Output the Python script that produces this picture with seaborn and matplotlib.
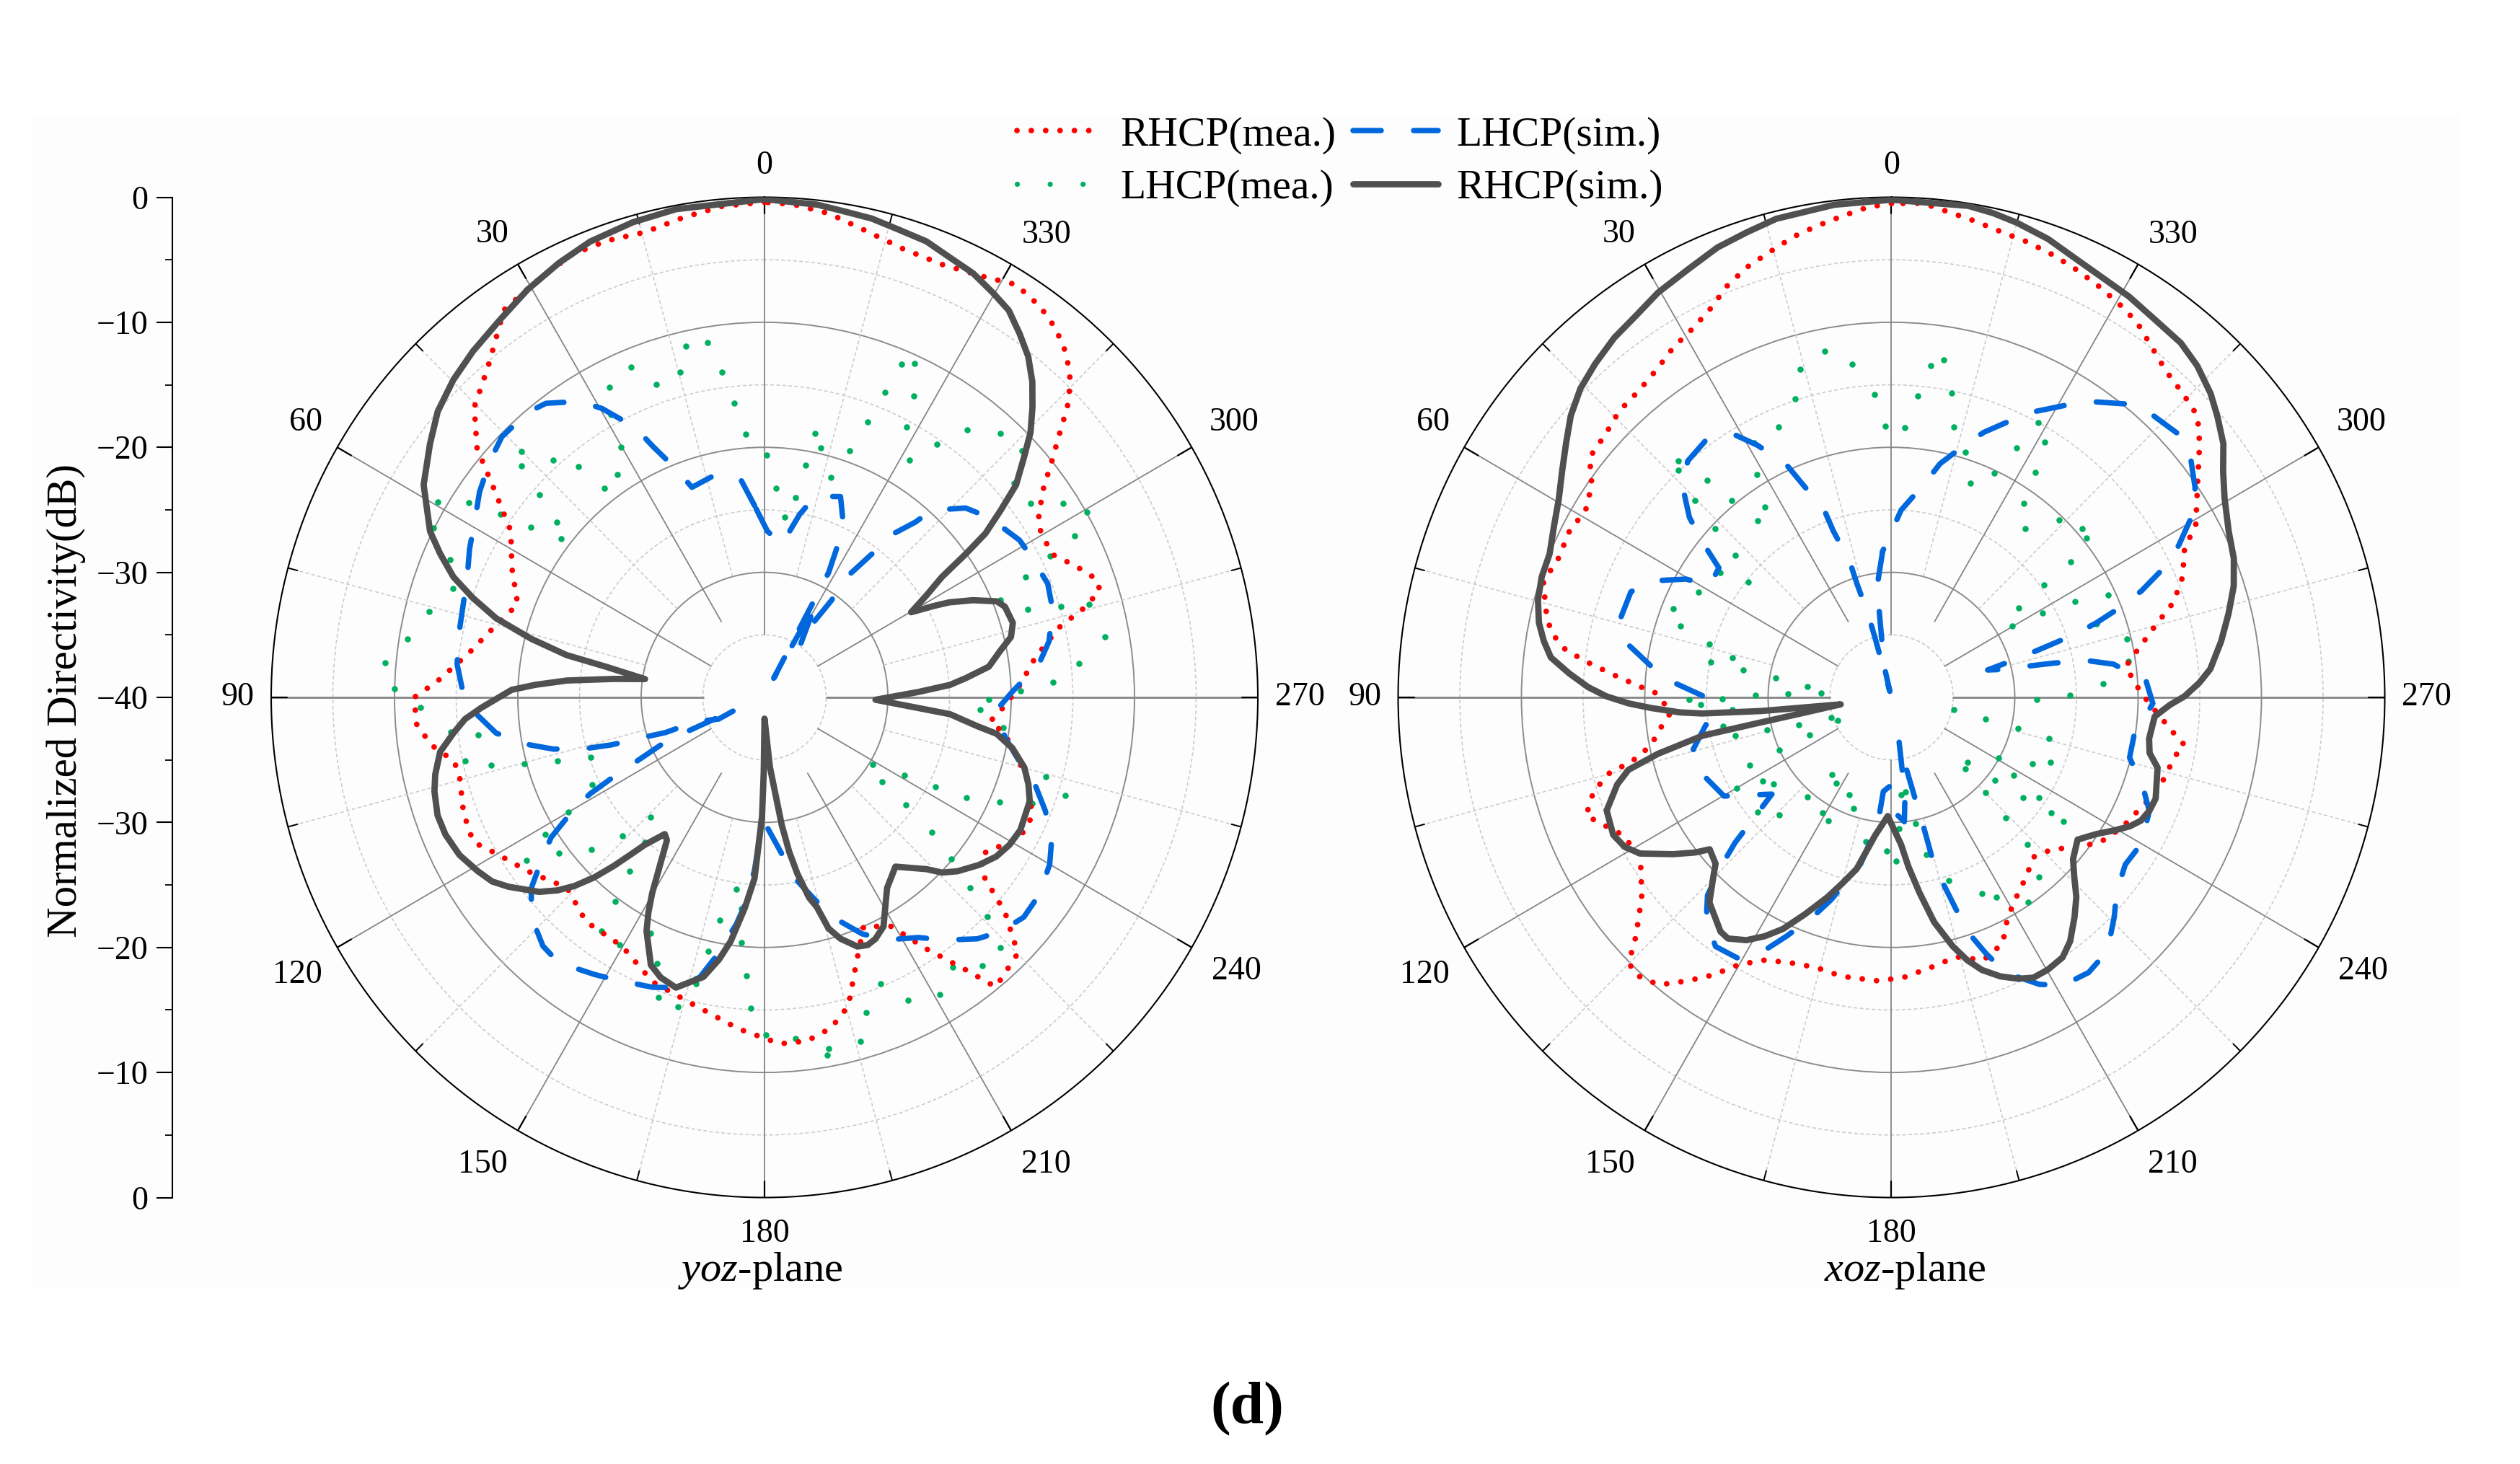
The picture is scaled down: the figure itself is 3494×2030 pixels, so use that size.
import numpy as np
import matplotlib
matplotlib.use("Agg")
import matplotlib.pyplot as plt
from matplotlib.lines import Line2D
from matplotlib.patches import Rectangle
import seaborn as sns

sns.set_theme(style="white")
plt.rcParams['font.family'] = ['Liberation Serif', 'DejaVu Serif']
plt.rcParams['mathtext.fontset'] = 'custom'
plt.rcParams['mathtext.it'] = 'Liberation Serif:italic'
plt.rcParams['mathtext.rm'] = 'Liberation Serif'

# yoz-plane, values (angle in deg, level in dB)
rhcp_sim_yoz_deg = [0,10.4,15.7,21.2,25.6,30.5,35.4,40.5,44.8,49.2,53.2,58.4,63.9,66.4,69.1,71.4,73.8,76.1,78.1,79.2,81.4,83.1,85.2,86.9,88.3,92.1,94.1,96.5,99.4,103,105.7,109.6,113,117,120.8,123.7,126.1,130.4,132.6,134.4,136.2,137.8,139.2,140.5,143.5,145.3,149.8,151.3,152.9,156.7,159.4,162.8,167.5,170,172,174.6,176.8,178.8,179.4,180,184.5,187.8,189.2,190.7,192.7,194.2,195.7,197.7,200.7,202.9,205,207.8,208.9,213.1,218.1,223.7,225.8,228.4,232.4,235.9,239.3,242.9,248.9,252,255.1,258.6,261.2,262.4,264.9,268.8,272,273.8,275.4,277.7,281.1,283.6,286.5,290.4,292.2,294.7,296.9,298,299.8,301.9,303.8,305.1,306.2,308,309.8,312.4,314.5,316.9,319.3,321.9,324.6,327.4,330.3,333.5,336.9,340.2,343.8,347.2,350.5,353.8,360]
rhcp_sim_yoz_db = [-0.15,-0.3,-0.53,-0.9,-1.46,-2.15,-2.96,-3.6,-4.2,-5,-6.13,-7.55,-9.8,-11.3,-13,-15.04,-17.35,-20.53,-23.6,-26.9,-30.2,-27.7,-23.9,-21.4,-19.5,-17,-15.65,-14.6,-13.34,-12.6,-12.2,-11.86,-11.9,-12.24,-12.9,-13.46,-14.3,-16,-17.2,-18.45,-20.05,-21.8,-23.4,-24.7,-26.4,-26.1,-21.9,-20.4,-19,-16.7,-16.07,-15.7,-17.1,-18.7,-20.3,-23.1,-25.5,-30.5,-34,-38.3,-34.4,-29.7,-27.5,-25.65,-23.6,-22.7,-20.8,-19.74,-18.7,-18.5,-18.7,-19.3,-19.9,-21.8,-22.8,-21,-19.9,-19.06,-18.04,-17.3,-16.9,-16.7,-16.95,-17.5,-18.2,-19.5,-20.95,-22.6,-24.9,-31,-27.5,-24.93,-23.6,-21.64,-20.5,-19.44,-19,-19.2,-19.66,-21.4,-23.2,-24.4,-26.3,-24.5,-22.7,-20.07,-17.8,-15.7,-13.45,-11.5,-9.76,-8.2,-6.7,-5.35,-4.3,-3.25,-2.7,-2.1,-1.74,-1.24,-1.04,-0.73,-0.6,-0.36,-0.15]

rhcp_mea_yoz_deg = [0,4.9,9.65,14.6,19.4,23.9,29.2,34.3,40.2,45.4,49.5,52.4,57.1,63.2,69.6,74.6,81.5,87.1,90,94.3,98,101.4,104,110.8,116.1,119.8,125.9,133.6,141.1,149.8,158.3,166.5,175.5,182.6,187.1,191.5,195.4,199.1,203.7,209.3,213.1,216.8,219,225.1,228.6,231,234.5,241.6,246.4,253.3,261.5,264,268,272.8,278.3,283.2,285.3,287.4,289.3,292.7,296.2,301.2,303.3,306.6,308.9,311.3,313.4,315.5,318.3,321.4,324.5,328.3,332.5,337.4,342.7,347.9,352.3,356.6,360]
rhcp_mea_yoz_db = [-0.4,-0.56,-1.05,-1.55,-1.3,-1.3,-1.95,-2.5,-5.3,-6.95,-9.35,-12.15,-15.5,-17.05,-18.65,-17.6,-15.8,-13.5,-11.6,-11.7,-12.7,-14.3,-14.5,-13.9,-13.7,-14.9,-16.3,-17.9,-16.95,-17,-15.5,-14.8,-13.4,-12.27,-12.3,-13,-14.4,-17.35,-20,-19,-16,-12.8,-10.2,-11,-14,-17,-18.4,-16.45,-16.3,-17.8,-20.3,-21.6,-20.5,-19.25,-17.8,-15.45,-13.25,-11.5,-11.45,-12.7,-14.05,-13.93,-13.4,-11.8,-10.1,-8.2,-6.2,-4.6,-3.2,-2.2,-1.56,-1.2,-2,-2.5,-2.4,-1.74,-0.95,-0.5,-0.4]

lhcp_sim_yoz_deg = [3,6.2,12,19.3,21.4,24.3,25.9,29.7,32.3,37,40.1,45.6,49.7,54.6,58.5,63.6,67.9,73.6,78.2,83.9,88.6,93.4,97.5,101.3,103.6,105.8,107,108,109.3,109.2,115,112,113.5,114,116.2,117.2,118.6,120.1,122.9,125.6,128.9,132.9,137.9,141.8,148.1,152,158.6,162.1,166.8,169.1,172.8,174.5,176.6,177.6,180,186.4,188.9,193.8,197.4,202.7,207.2,213,217,221.8,225.7,230.1,234.7,240,244.3,248.3,252.1,257,260.7,266.9,271.3,276.8,281,286.8,291.6,297.1,301.3,308.4,312.9,317.8,318.9,322.4,322.8,325.6,325,327,325,331,334,332.5,333.8,336.2,339,345.7,349,353.5,359,363]
lhcp_sim_yoz_db = [-24.65,-22.55,-21.7,-22.2,-20.4,-17.95,-16,-13.4,-12,-10.55,-10.2,-10.2,-10.8,-11.65,-12.5,-13.3,-14,-14.5,-14.7,-14.93,-15.5,-16.65,-18.06,-20.6,-22.4,-25,-27,-29.6,-31.5,-34.1,-35.9,-37.74,-33.23,-31.1,-28.5,-26.6,-23.9,-22.1,-19.4,-17.8,-15.7,-14.2,-13.2,-13,-13.9,-14.4,-15.1,-15.6,-17,-18.8,-21.7,-23.3,-26.1,-28,-30,-27.4,-25.6,-23.5,-21.6,-19.5,-18.2,-17.1,-15.7,-14.1,-13.2,-12.6,-12.7,-13.3,-14.15,-15.5,-16.9,-19.05,-20.24,-21.15,-19.9,-17.6,-16.5,-15.6,-15.3,-15.6,-15.8,-16.8,-17.75,-19.8,-21.4,-23.9,-25.6,-28.55,-30.5,-33.4,-35,-31.5,-38.3,-28.73,-26.8,-24.3,-22.8,-23.4,-25.1,-27.7,-26.7,-24.65]

lhcp_mea_yoz_deg = [12.8,9.3,22.3,14.7,7.6,19.3,26.9,28.8,6,4.1,30.1,45.1,42.1,46.8,39.3,33.8,37.8,48.4,59.5,57,55.6,63.2,54.3,50.3,52.4,66.6,71,75.8,80.8,84.9,88.7,91.6,96.2,97.3,101.8,103.8,105.2,106.8,108.8,116.5,119.9,121.7,136,133.8,140,130.9,126.8,124.1,141.8,143.4,171.5,173.6,168.6,174.6,144.8,149.2,153.9,167.3,157.7,166.3,176.2,160.3,164.2,177.4,180.3,185.3,190.5,190.1,195.8,198.1,202.3,205.7,210.9,215.3,219.5,223.7,225.9,227.6,229.6,231.5,233.2,234.8,238.5,241.2,242.8,244,246.3,248.6,252.2,254.4,256.4,262.9,266.8,269.4,271.5,273,276.1,280,285.8,286.8,288.3,292.2,294.5,296,297.2,299.6,302.6,305.7,310.2,313.4,317.8,322.5,325.3,328.3,331.9,339.2,340.7,343,347.1,349.1,349.9,351,353.5,356.7,359.4,338.2,333.3,337.4,335.5]
lhcp_mea_yoz_db = [-11.2,-11.24,-11.43,-13.1,-13.74,-13.5,-12.16,-14.2,-16.34,-18.92,-16.85,-12.15,-14.4,-12.94,-16.16,-18.55,-18.8,-15.6,-9.24,-11.43,-14.03,-9.9,-16.64,-18.1,-19.2,-12.2,-13.3,-11.94,-10.7,-9.1,-10,-12.1,-14.44,-16.6,-15.2,-17.2,-19.8,-22.45,-25.1,-24.4,-21.65,-19.1,-26.7,-24,-24.9,-21.4,-19.2,-16.7,-22.3,-19.7,-24.5,-23,-21.8,-20.3,-17.1,-17,-19,-19.2,-17,-16.45,-17.7,-14.5,-14.3,-15.1,-13,-12.6,-11.45,-10.95,-11.4,-13.5,-15.24,-13.1,-12.33,-13.55,-12.2,-12.3,-14.8,-17.44,-20.1,-22.7,-25.7,-28.3,-29.7,-27.04,-24.4,-21.75,-19.15,-16.7,-14.4,-16.3,-18.8,-20.5,-22.5,-21.8,-19.26,-16.57,-14.36,-12,-12.67,-14.92,-17.5,-19.33,-16.73,-14.24,-11.7,-9.95,-11.25,-13.44,-13.5,-11.3,-11.54,-13.03,-15.4,-17.67,-15.5,-16.4,-19.1,-21.6,-19.5,-18.5,-21.14,-23.84,-25.5,-23.24,-20.6,-13.7,-13,-11.13,-10.65]

# xoz-plane
rhcp_sim_xoz_deg = [0,6.7,13.7,17.5,21.4,25.7,30.3,34.1,38,42,45.6,49.1,52.4,55.9,59.5,63.4,67.5,71.2,74.8,78.2,80.9,83.4,85.8,88.1,89.8,91.3,92.5,94,94.8,95.9,97.7,99.8,100.8,101.3,103.4,105.2,107.4,111.4,116,119,121.5,125.3,127.9,129.5,133,135.1,138,143.5,145.5,148.8,151.7,154.6,158,162,165,168.4,173.2,178.2,183.8,185.8,188.3,190.9,194,196.3,198.6,201.6,204.6,207.2,210.2,213.7,216.6,220.2,223.2,226,228.7,233,236.7,239.6,241.9,244,246.6,249.3,255.4,258,261,265.9,268.5,270.2,272.7,275,279.5,283.8,287.8,291.8,295.9,300.5,303.9,307,310.4,313.2,316.9,320.4,324.7,329,332.8,336.7,340.9,345,348,351,360]
rhcp_sim_xoz_db = [-0.2,-0.33,-0.6,-1,-1.35,-2,-2.5,-3.1,-3.5,-4.1,-4.7,-5.6,-6.7,-7.75,-8.7,-9.4,-10,-10.05,-10.3,-10.8,-11.45,-12.2,-13.8,-15.4,-16.9,-18.7,-20.5,-22.8,-24.6,-29.4,-35.85,-32.9,-28.64,-24.4,-20.55,-17.9,-16.7,-15.2,-14.9,-15.3,-16.1,-18.3,-19.8,-20.9,-20.5,-19.5,-17.94,-16.7,-16.6,-17.3,-18.3,-19.5,-21.3,-23.2,-24.6,-26,-28.9,-30.5,-28.2,-26.4,-24.2,-21.7,-19.5,-18.1,-17,-16,-15.25,-14.8,-14.8,-15,-15.7,-17,-18.1,-19.4,-20.4,-21.1,-20.1,-19,-18.1,-17.5,-17.2,-17.1,-17.7,-18.6,-18.85,-18.6,-17.4,-16.24,-15,-14.05,-12.9,-11.85,-10.85,-10.1,-9.6,-8.65,-7.6,-6.3,-5.3,-4.5,-3.7,-3.2,-3,-2.6,-2.34,-1.9,-1.2,-0.7,-0.4,-0.2,-0.2]

rhcp_mea_xoz_deg = [0,2.8,5.9,9,12.1,15.4,18.7,21.9,25.2,28.7,32.3,36,39.9,44,47.9,51.9,55,58.9,63,67.6,71.8,75.9,79.3,81.9,83.8,85.6,87.7,88.8,93.7,97,101.2,103.8,104.7,107.3,110.9,112.7,116.5,121.4,124,128.3,132.7,134.9,137,140.6,143.7,146.9,150,153.9,158.9,164.2,169.8,177.4,182.7,188.3,194.2,199.5,204.6,208.2,213.4,216.9,222.1,226.9,231,235.5,240.9,246.3,251.3,254,258.6,260.9,262.5,266.8,271.2,277.4,281.5,284.9,288.4,292.2,296.5,299.3,304.7,309.1,312.2,315.8,319.5,323.1,326.4,329.7,333.4,336.7,339.9,343.4,346.7,350,353.2,356.3,360]
rhcp_mea_xoz_db = [-0.5,-0.75,-1.3,-1.8,-2.3,-3.02,-3.64,-4.45,-5.6,-6.4,-6.9,-7.6,-8.05,-8.2,-8.7,-8.9,-10.34,-11.04,-10.7,-10.8,-10.3,-11.1,-11.9,-13.35,-15.55,-17.6,-19.7,-20.8,-22.1,-21.24,-20.1,-18.25,-16.43,-14.7,-13.5,-14.2,-15.5,-16,-15.5,-14.2,-11.8,-9.93,-9.64,-10.25,-11.84,-13.5,-15.33,-16.6,-17.25,-17.55,-17.33,-17.3,-17.6,-18.15,-18.6,-17.7,-18.35,-20.05,-21.3,-21.9,-22.8,-22.2,-20.95,-19.5,-18.6,-17.95,-17.1,-16.95,-16.5,-15.94,-16.76,-18.47,-19.8,-20.85,-19.4,-17.9,-15.9,-14.5,-13.45,-11.7,-9.8,-7.8,-6.5,-6.1,-5.7,-4.9,-4,-3.5,-3,-2.6,-2.25,-1.93,-1.7,-1.3,-0.9,-0.4,-0.5]

lhcp_sim_xoz_deg = [3.5,7.1,8.1,11,13.3,15,15.6,15.9,17.1,17.3,19.5,20,22.9,24.6,28.3,31.1,36,41.2,45.9,48.7,51.2,53.5,58.7,60.4,64.3,68.2,74.9,78.9,83,86.2,89.7,95.5,104.5,111.2,120.2,123.9,128.6,130.5,132.5,134.2,136.7,139.9,144.4,149,153.5,156,160,163.2,169.4,172,174,175,179,181,186,188,190,192,193.4,194.1,194.4,195.5,197.2,198.2,200.5,202.8,207.6,211.1,216,220.8,225.8,229.5,234.8,240,246.5,250.7,256,261,268.7,273.5,278.4,280.2,281.7,282.5,284.3,285.7,287,287.8,288.7,289.7,291.3,292.8,295.3,297.6,301.1,304.3,308.6,312,317.7,321,325.5,328.4,333,336.1,340.5,343.5,348.1,350.9,357,363.5]
lhcp_sim_xoz_db = [-28.3,-30.85,-32.87,-36.4,-37.66,-39.5,-35.15,-33,-30.5,-28.6,-25.9,-24,-21.5,-19.5,-17.1,-15.5,-14.5,-14.9,-16.6,-18.2,-20.5,-22.6,-22.74,-20.85,-18.5,-17.25,-17.1,-18.3,-20.5,-22.35,-24.8,-25.3,-23.4,-23.4,-24.3,-26,-27.6,-25.7,-22.8,-20.9,-18.25,-16.7,-15.5,-15.7,-17.6,-19.1,-21.3,-23.1,-26.45,-28.7,-30.5,-32.44,-32.9,-30.9,-30,-32.1,-36.5,-34.1,-31.5,-29.5,-26.85,-24.85,-22.2,-20.3,-18.15,-16.1,-14.1,-13.1,-12.8,-13.2,-14.8,-16,-16.8,-16.6,-17.2,-18.4,-20.1,-20.1,-18.8,-19.3,-21.8,-23.6,-26.4,-28.2,-31,-31.9,-29,-27.14,-24.4,-22.4,-19.93,-18,-15.4,-13.7,-11.4,-10.2,-9,-8.6,-9.1,-9.8,-11.3,-12.5,-14.34,-15.7,-17.5,-18.9,-20.9,-22.6,-25,-28.3]

lhcp_mea_xoz_deg = [11,6.8,15.7,18.1,3.2,22.9,1.3,357.2,346.8,355,348.7,353.1,351.1,331.5,333,328.7,343,335.1,327,339.5,325.3,321.2,316.3,311.1,308.9,306.7,306,294.9,297.2,304.8,298.8,300.4,289.4,283.7,278.6,273.6,270.6,269.1,259.3,257.2,256.3,255.6,248,245,240.9,229.8,226.4,237.7,231.7,225.1,233.2,236.3,234.4,234.6,223.9,223.1,219.7,214.1,208.1,205,197.6,192.8,191,183.3,188.5,185.7,181.6,178.3,169.7,160.8,152.5,148.9,156.3,146.9,141.9,139.5,136,130.1,126,122.6,120.2,115.2,114.8,114.1,106.3,104.5,103.5,99.6,113,108.2,86.7,82.6,88,89.2,80.7,79.6,76.1,79,73.8,90.4,90.7,92.2,94.4,71.6,68.2,61.7,54.4,51.5,48.1,37.6,34,39.4,46.6,45.3,40.8,43.6,42.4,31.4,28.7]
lhcp_mea_xoz_db = [-11.8,-13.16,-12.73,-14.9,-15.74,-16.5,-18.3,-18.4,-17.8,-15.8,-15.2,-13.3,-12.7,-15,-17.6,-16.1,-19.5,-20.2,-18.54,-21.74,-21.14,-22.67,-20.35,-19.5,-19.7,-21.9,-24.7,-20.6,-23.24,-27.44,-26,-28.66,-22.34,-20.34,-20.6,-22.8,-25.5,-28.2,-34.83,-32.16,-29.43,-26.8,-26.1,-27.4,-30.03,-31.94,-31.76,-28.3,-29.3,-29.22,-26.64,-25.6,-24.1,-22.9,-26.6,-23.9,-21.3,-20.2,-21.9,-22.7,-24.6,-27.1,-29.7,-29.5,-32.35,-32.16,-26.9,-27.7,-28.3,-30.6,-28.9,-29.2,-31.5,-31.8,-32.15,-29.53,-26.94,-25.8,-28.2,-27.6,-25.5,-27.3,-30,-32.7,-32.2,-29.6,-27,-26.14,-35.26,-34.85,-34.3,-33.14,-31.63,-29,-30.5,-27.8,-26.7,-25.1,-24.6,-26.3,-23.6,-24.5,-27.06,-22,-20.93,-22.2,-22.9,-25.2,-23,-22.2,-21.65,-19.6,-20.33,-17.6,-17.1,-14.9,-14.4,-19.1,-16.8]

angle_ticks = list(range(0, 360, 30))
y_tick_pos = list(range(0, 81, 10))
y_tick_labels = ['0', '\u221210', '\u221220', '\u221230', '\u221240', '\u221230', '\u221220', '\u221210', '0']

red = '#FF0000'
green = '#00B060'
blue = '#0068DC'
dark = '#505050'
red_dots = (0, (0.01, 2.55))
blue_dash = (0, (5.2, 6.0))

# where the angle labels actually sit: angle, radius past the rim
label_spot = {0: (0, 2.5), 30: (30.8, 3.1), 60: (59.4, 3.2), 90: (90, 2.7), 120: (120.4, 3.9), 150: (148.6, 3.8),
              180: (180, 2.9), 210: (211.4, 3.8), 240: (240.2, 4.1), 270: (270, 3.4), 300: (300, 4.0), 330: (328.3, 3.5)}

W, H = 3494, 2030
fig = plt.figure(figsize=(W / 100, H / 100), dpi=100, facecolor='white')
fig.patches.append(Rectangle((45 / W, 1 - 1786 / H), (3411 - 45) / W, (1786 - 158) / H,
                             transform=fig.transFigure, facecolor='#FDFDFD', edgecolor='none', zorder=-5))


def polar_panel(cx, caption, cap_x, sim_r, mea_r, sim_l, mea_l):
    rx, ry, cy = 684, 693.5, 967
    ax = fig.add_axes([(cx - rx) / W, 1 - (cy + ry) / H, 2 * rx / W, 2 * ry / H], projection='polar')
    ax.set_aspect('auto')
    ax.patch.set_alpha(0)
    ax.set_theta_zero_location('N')
    ax.set_theta_direction(1)
    ax.set_ylim(-40, 0)
    ax.set_xticks([])
    ax.set_yticks([-30, -20, -10])
    ax.set_yticks([-35, -25, -15, -5], minor=True)
    ax.set_yticklabels([])
    ax.tick_params(which='both', length=0)
    ax.grid(False)
    ax.yaxis.grid(True, which='major', color='#8c8c8c', lw=1.4, ls='-')
    ax.yaxis.grid(True, which='minor', color='#cccccc', lw=1.2, ls=(0, (3, 2)))
    ax.spines['polar'].set_linewidth(1.5)
    ax.spines['polar'].set_color('black')

    # spokes and edge ticks
    for a in range(0, 360, 15):
        t = np.radians(a)
        if a % 30 == 0:
            lw = 2.0 if a % 90 == 0 and a % 180 != 0 else 1.3
            inner = -33 if a % 60 == 30 and a % 90 != 0 else -35
            ax.plot([t, t], [inner, 0], color='#858585', lw=lw, zorder=1)
            ax.plot([t, t], [-1.3, 0], color='black', lw=1.6, zorder=1.5)
        else:
            ax.plot([t, t], [-30, 0], color='#cccccc', lw=1.2, ls=(0, (3, 2)), zorder=1)
            ax.plot([t, t], [-0.8, 0], color='black', lw=1.4, zorder=1.5)
    for a in angle_ticks:
        deg, r = label_spot[a]
        ax.text(np.radians(deg), r, str(a), fontsize=33, ha='center', va='center', color='black', clip_on=False)

    sns.scatterplot(x=np.radians(mea_l[0]), y=mea_l[1], ax=ax, color=green, s=38, linewidth=0, zorder=3)
    sns.lineplot(x=np.radians(mea_r[0]), y=mea_r[1], ax=ax, color=red, lw=5.6, linestyle=red_dots,
                 dash_capstyle='round', sort=False, estimator=None, zorder=4)
    sns.lineplot(x=np.radians(sim_l[0]), y=sim_l[1], ax=ax, color=blue, lw=5.4, linestyle=blue_dash,
                 dash_capstyle='round', dash_joinstyle='round', sort=False, estimator=None, zorder=5)
    sns.lineplot(x=np.radians(sim_r[0]), y=sim_r[1], ax=ax, color=dark, lw=6.3,
                 solid_joinstyle='round', sort=False, estimator=None, zorder=6)
    ax.set_xlabel('')
    ax.set_ylabel('')
    fig.text(cap_x / W, 1 - 1762 / H, caption, fontsize=42, ha='center', va='center', color='black')
    return ax


polar_panel(1060, r'$\mathit{yoz}$-plane', 1054,
            (rhcp_sim_yoz_deg, rhcp_sim_yoz_db), (rhcp_mea_yoz_deg, rhcp_mea_yoz_db),
            (lhcp_sim_yoz_deg, lhcp_sim_yoz_db), (lhcp_mea_yoz_deg, lhcp_mea_yoz_db))
polar_panel(2622.5, r'$\mathit{xoz}$-plane', 2641,
            (rhcp_sim_xoz_deg, rhcp_sim_xoz_db), (rhcp_mea_xoz_deg, rhcp_mea_xoz_db),
            (lhcp_sim_xoz_deg, lhcp_sim_xoz_db), (lhcp_mea_xoz_deg, lhcp_mea_xoz_db))

# shared dB axis on the left
yax = fig.add_axes([239 / W, 1 - 1660.5 / H, 4 / W, 1387 / H])
yax.patch.set_alpha(0)
yax.set_ylim(80, 0)
yax.set_xticks([])
yax.set_yticks(y_tick_pos)
yax.set_yticklabels(y_tick_labels, fontsize=33)
yax.set_yticks(np.arange(5, 80, 10), minor=True)
yax.tick_params(axis='y', which='major', left=True, length=16, width=1.5, pad=8, color='black', labelcolor='black')
yax.tick_params(axis='y', which='minor', left=True, length=7, width=1.3, color='black')
for s in ['top', 'right', 'bottom']:
    yax.spines[s].set_visible(False)
yax.spines['left'].set_linewidth(1.5)
yax.spines['left'].set_color('black')

fig.text(92 / W, 1 - 972 / H, 'Normalized Directivity(dB)', fontsize=42.5, rotation=90,
         ha='center', va='center', color='black')

handles = [
    Line2D([], [], color=red, lw=5.6, linestyle=red_dots, dash_capstyle='round'),
    Line2D([], [], color=green, lw=5.2, linestyle=(0, (0.01, 6.3)), dash_capstyle='round'),
    Line2D([], [], color=blue, lw=5.4, linestyle=blue_dash, dash_capstyle='round'),
    Line2D([], [], color=dark, lw=6.3),
]
labels = ['RHCP(mea.)', 'LHCP(mea.)', 'LHCP(sim.)', 'RHCP(sim.)']
fig.legend(handles, labels, ncols=2, loc='center', bbox_to_anchor=(1858 / W, 1 - 224 / H), frameon=False,
           fontsize=41.5, handlelength=2.05, handletextpad=0.45, columnspacing=0.4, labelspacing=0.36,
           borderpad=0, borderaxespad=0, labelcolor='black')

fig.text(1729 / W, 1 - 1954 / H, '(d)', fontsize=60, fontweight='bold', ha='center', va='center', color='black')

fig.savefig('out.png', dpi=100)
